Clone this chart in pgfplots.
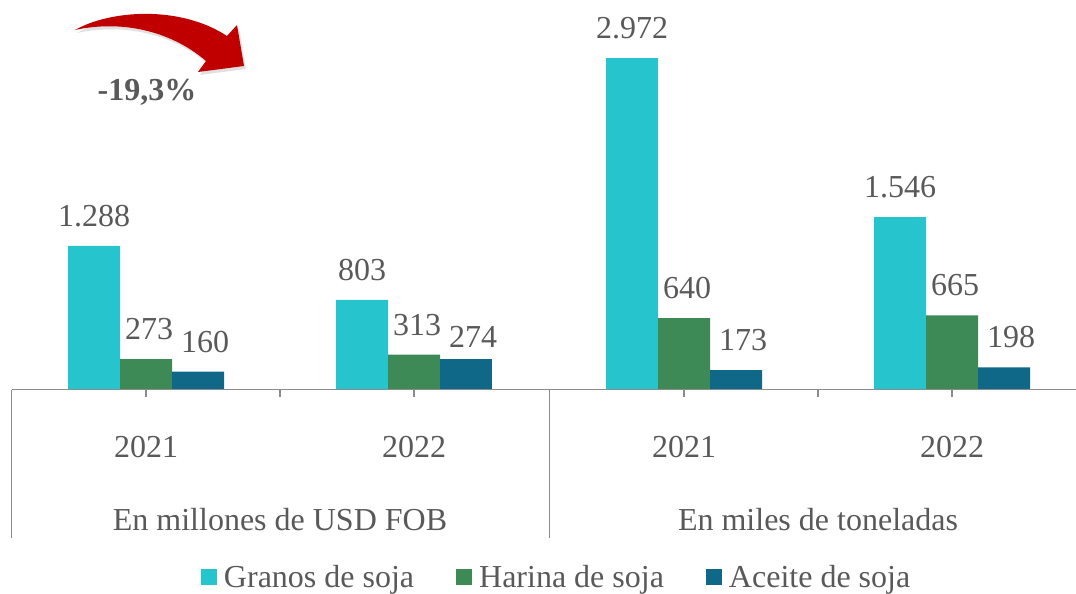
\documentclass[border=0pt]{standalone}
\usepackage{pgfplots}
\pgfplotsset{compat=1.18}
\usepackage{fontspec}
\setmainfont{Liberation Serif}
\definecolor{granos}{HTML}{26C4CC}
\definecolor{harina}{HTML}{3D8A57}
\definecolor{aceite}{HTML}{106888}
\definecolor{txt}{HTML}{595959}
\definecolor{axisgray}{HTML}{8C8C8C}
\definecolor{arrowred}{HTML}{C00000}
\newcommand\fs{\fontsize{32bp}{38bp}\selectfont}
\begin{document}
\begin{tikzpicture}
\begin{axis}[
  name=ax,
  width=1076bp, height=593bp, scale only axis,
  xmin=0, xmax=1076, ymin=-1825.1, ymax=3493.3,
  hide axis, clip=false,
  ybar, bar width=52, bar shift=0pt,
  nodes near coords,
  /pgf/number format/1000 sep={.},
  /pgf/number format/assume math mode=true,
  every node near coord/.append style={font=\fs, text=txt, anchor=base, inner sep=0pt, yshift=19.5bp},
  legend columns=3,
  legend style={at={(rel axis cs:0.1868,0.0065)}, anchor=south west, draw=none, fill=none,
    font=\fs, text=txt, inner sep=0pt, outer sep=0pt,
    nodes={inner sep=0pt, outer sep=0pt},
    /tikz/every odd column/.append style={column sep=7bp},
    /tikz/every even column/.append style={column sep=42bp}},
  legend image code/.code={\fill[#1] (0bp,-7.5bp) rectangle (16bp,8.5bp);},
]
\addplot[fill=granos, draw=none] coordinates {(94,1288) (362,803) (632,2972) (900,1546)};
\addlegendentry{Granos de soja}
\addplot[fill=harina, draw=none, every node near coord/.append style={xshift=3bp}] coordinates {(146,273) (414,313) (684,640) (952,665)};
\addlegendentry{Harina de soja}
\addplot[fill=aceite, draw=none, every node near coord/.append style={xshift=7bp}] coordinates {(198,160) (736,173) (1004,198)};
\addlegendentry{Aceite de soja}
\addplot[fill=aceite, draw=none, forget plot, every node near coord/.append style={xshift=7bp, yshift=-8.5bp}] coordinates {(466,274)};
\end{axis}
\begin{scope}[shift={(ax.north west)}, x=1bp, y=-1bp]
  \draw[axisgray, line width=1.5bp] (11.7,389.5) -- (1076,389.5);
  \draw[axisgray, line width=1.5bp] (11.7,389.5) -- (11.7,538) (549.3,389.5) -- (549.3,538);
  \foreach \x in {146,280,414,684,818,952} \draw[axisgray, line width=1.5bp] (\x,389.5) -- (\x,397);
  \begin{scope}[every node/.style={anchor=base, font=\fs, text=txt, inner sep=0pt}]
    \node at (146,457) {2021};
    \node at (414,457) {2022};
    \node at (684,457) {2021};
    \node at (952,457) {2022};
    \node at (280,530) {En millones de USD FOB};
    \node at (818,530) {En miles de toneladas};
    \node[font=\fs\bfseries] at (147,101) {-19,3\%};
  \end{scope}
  \fill[black!20, opacity=0.6, shift={(2,3)}] (75,30) .. controls (110,10) and (180,5) .. (227,36) -- (237,25) -- (244,66) -- (198,72) -- (206,61) .. controls (170,30) and (120,20) .. (75,30) -- cycle;
  \fill[arrowred] (75,30) .. controls (110,10) and (180,5) .. (227,36) -- (237,25) -- (244,66) -- (198,72) -- (206,61) .. controls (170,30) and (120,20) .. (75,30) -- cycle;
\end{scope}
\pgfresetboundingbox
\path[use as bounding box] (ax.south west) rectangle (ax.north east);
\end{tikzpicture}
\end{document}
